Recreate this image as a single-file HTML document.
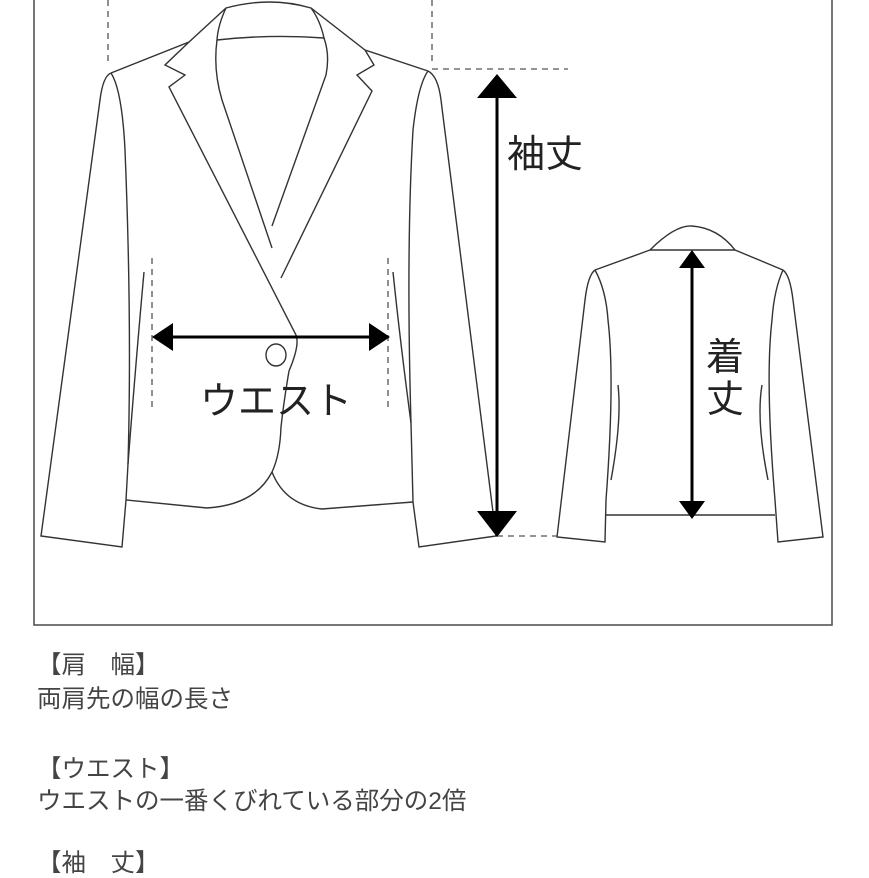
<!DOCTYPE html>
<html><head><meta charset="utf-8"><style>
html,body{margin:0;padding:0;background:#fff;width:869px;height:869px;overflow:hidden}
svg{position:absolute;left:0;top:0}
.t{position:absolute;left:37px;font-family:"Liberation Sans","Noto Sans CJK JP",sans-serif;font-size:24.5px;color:#444;line-height:28px;white-space:nowrap}
</style></head><body>
<svg width="869" height="869" viewBox="0 0 869 869">
<g fill="none" stroke="#333" stroke-width="1.4">
<rect x="34" y="-5" width="798" height="630" stroke="#555" stroke-width="1.6"/>
<path d="M111,73 L189,42 L226,8 Q270,-4 311,8 L365,50 L428,71"/>
<path d="M226,8 Q218,25 217,40 Q270,34 324,38 Q320,20 311,8"/>
<path d="M217,40 Q213,70 222,100 L272,248"/>
<path d="M324,38 Q330,55 326,75 L272,226"/>
<path d="M189,42 L165,65 L185,75 L169,87 L296,335 Q300,345 289,371 Q284,400 281,427 Q280,455 272,472"/>
<path d="M365,50 L374,65 L357,75 L372,91 L281,278"/>
<path d="M272,472 Q255,505 207,508 L126,500"/>
<path d="M272,472 Q285,505 322,509 L413,502"/>
<path d="M111,73 Q103,76 100,100 L41,536 L122,547 L126,500 L128,464 Q132,320 125,150 Q122,90 111,73"/>
<path d="M144,272 Q136,360 128,464"/>
<path d="M428,71 Q438,76 441,100 L496,536 L419,547 L413,502 L411,423 Q406,250 413,130 Q418,85 428,71"/>
<path d="M393,272 Q400,340 411,423"/>
<ellipse cx="276" cy="355" rx="10" ry="11"/>
<path d="M650,250 Q675,225 692,226 Q718,228 735,250 Z"/>
<path d="M595,270 L650,250 M735,250 L783,270"/>
<path d="M595,270 Q588,275 585,300 L557,537 L605,542 L606,500 Q615,380 608,320 Q606,290 595,270"/>
<path d="M783,270 Q790,275 793,300 L823,537 L778,542 L775,500 Q765,380 772,320 Q774,290 783,270"/>
<path d="M606,515 L775,515"/>
<path d="M618,385 Q622,420 611,480 M762,385 Q756,420 768,480"/>
</g>
<g fill="none" stroke="#555" stroke-width="1.3" stroke-dasharray="6,5">
<path d="M108,0 V62 M432,0 V62 M432,69 H568 M497,536 H557 M152,258 V407 M388,258 V407"/>
</g>
<g stroke="#000" stroke-width="3" fill="#000">
<path d="M160,337 H382"/>
<path d="M497,95 V515"/>
<path d="M692,265 V505"/>
<path d="M152,337 L173,323 L173,351 Z M390,337 L369,323 L369,351 Z" stroke="none"/>
<path d="M497,74 L477,98 L517,98 Z M497,537 L477,511 L517,511 Z" stroke="none"/>
<path d="M692,250 L679,268 L705,268 Z M692,519 L679,501 L705,501 Z" stroke="none"/>
</g>
<g font-family="Liberation Sans,Noto Sans CJK JP,sans-serif" fill="#222">
<text x="276" y="414" font-size="38" text-anchor="middle">ウエスト</text>
<text x="507" y="167" font-size="38">袖丈</text>
<text x="706" y="370" font-size="38">着</text>
<text x="706" y="412" font-size="38">丈</text>
</g>
</svg>
<div class="t" style="top:652px">【肩　幅】</div>
<div class="t" style="top:686px">両肩先の幅の長さ</div>
<div class="t" style="top:756px">【ウエスト】</div>
<div class="t" style="top:788px">ウエストの一番くびれている部分の2倍</div>
<div class="t" style="top:850px">【袖　丈】</div>
</body></html>
